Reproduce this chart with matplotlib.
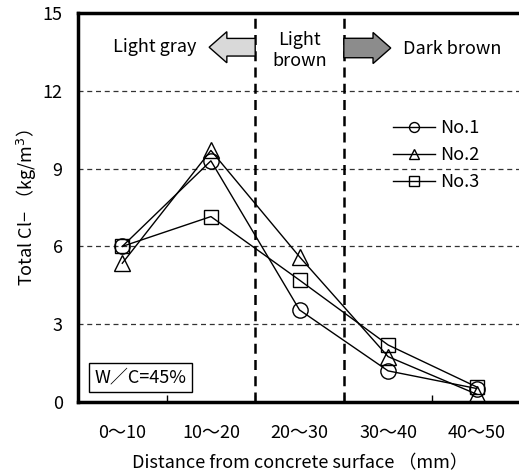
import matplotlib.pyplot as plt
import numpy as np
from matplotlib.patches import FancyArrow

plt.rcParams['font.family'] = ['Noto Sans CJK JP', 'DejaVu Sans']

# chloride content per depth band
categories = ['0～10', '10～20', '20～30', '30～40', '40～50']
no1 = [6.0, 9.3, 3.55, 1.2, 0.52]
no2 = [5.35, 9.7, 5.6, 1.75, 0.3]
no3 = [6.0, 7.15, 4.7, 2.2, 0.58]
series = [('No.1', no1, 'o'), ('No.2', no2, '^'), ('No.3', no3, 's')]

fs = 13

fig = plt.figure(figsize=(5.19, 4.75), dpi=100)
ax = fig.add_axes([78 / 519, 73 / 475, 443 / 519, 389 / 475])

x = np.arange(len(categories))

# horizontal dashed grid
for yv in [3, 6, 9, 12]:
    ax.axhline(yv, color='#333333', lw=0.9, ls=(0, (4, 3)), zorder=1)

# zone borders
for xv in [1.5, 2.5]:
    ax.axvline(xv, color='black', lw=1.8, ls=(0, (4, 2.5)), zorder=2)

for name, vals, mk in series:
    ax.plot(x, vals, color='black', lw=1, marker=mk, markersize=11 if mk != 's' else 10,
            markerfacecolor='none', markeredgecolor='black', markeredgewidth=1,
            label=name, zorder=3)

ax.set_xlim(-0.5, 4.5)
ax.set_ylim(0, 15)
ax.set_yticks([0, 3, 6, 9, 12, 15])
ax.tick_params(axis='y', length=0, labelsize=fs, pad=11)
ax.set_xticks([0.5, 1.5, 2.5, 3.5])
ax.set_xticklabels([])
ax.set_xticks(x, minor=True)
ax.set_xticklabels(categories, minor=True, fontsize=fs)
ax.tick_params(axis='x', which='major', direction='in', length=5, width=1)
ax.tick_params(axis='x', which='minor', length=0, pad=16)

for sp in ax.spines.values():
    sp.set_linewidth(2.5)

ax.set_xlabel('Distance from concrete surface （mm）', fontsize=fs, labelpad=9)
ax.set_ylabel('Total Cl− （kg/m$^3$）', fontsize=fs, labelpad=3)

# colour zone annotations
ax.add_patch(FancyArrow(1.5, 13.68, -0.52, 0, width=0.68, head_width=1.2,
                        head_length=0.2, length_includes_head=True,
                        facecolor='#d9d9d9', edgecolor='black', lw=1, zorder=4))
ax.add_patch(FancyArrow(2.5, 13.65, 0.53, 0, width=0.75, head_width=1.2,
                        head_length=0.2, length_includes_head=True,
                        facecolor='#8c8c8c', edgecolor='black', lw=1, zorder=4))
ax.text(0.36, 13.7, 'Light gray', ha='center', va='center', fontsize=fs)
ax.text(2.0, 13.55, 'Light\nbrown', ha='center', va='center', fontsize=fs, linespacing=1.25)
ax.text(3.72, 13.62, 'Dark brown', ha='center', va='center', fontsize=fs)

ax.text(0.21, 0.96, 'W／C=45%', ha='center', va='center', fontsize=fs,
        bbox=dict(boxstyle='square,pad=0.3', facecolor='white', edgecolor='black', lw=1))

ax.legend(loc='upper left', bbox_to_anchor=(0.711, 0.727), frameon=False, fontsize=fs,
          handlelength=2.3, handletextpad=0.3, labelspacing=0.5, borderaxespad=0,
          borderpad=0, markerscale=0.65)

plt.savefig('out.png', dpi=100)
